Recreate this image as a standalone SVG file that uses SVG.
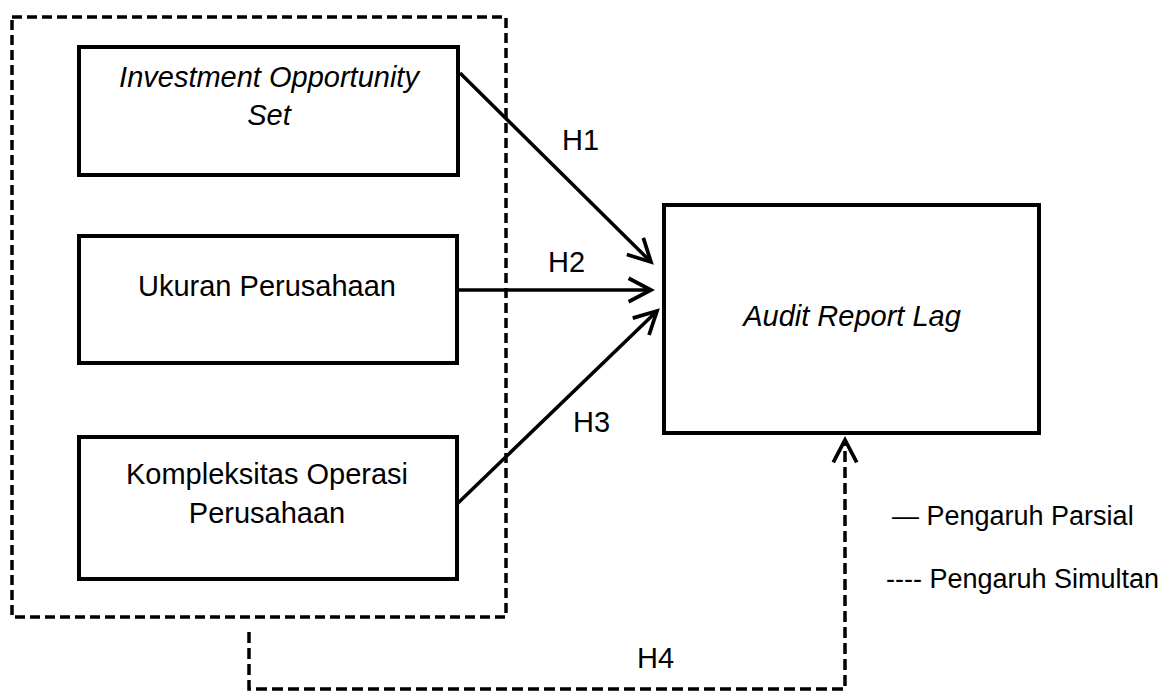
<svg xmlns="http://www.w3.org/2000/svg" width="1159" height="693" viewBox="0 0 1159 693">
<style>
.box{fill:#fff;stroke:#000;stroke-width:4;}
.dash{fill:none;stroke:#000;stroke-width:3.5;stroke-dasharray:10 5;}
.line{fill:none;stroke:#000;stroke-width:3.5;}
text{font-family:"Liberation Sans",Arial,sans-serif;font-size:29px;fill:#000;}
.it{font-style:italic;}
.lg{font-size:27px;}
</style>
<defs>
<marker id="arr" markerUnits="userSpaceOnUse" markerWidth="32" markerHeight="32" viewBox="-26 -15 30 30" refX="0" refY="0" orient="auto">
<path d="M -21 -11 L 0 0 L -21 11" fill="none" stroke="#000" stroke-width="3.5"/>
</marker>
</defs>
<rect width="1159" height="693" fill="#fff"/>
<g id="group-box">
<rect class="dash" x="12" y="17" width="494" height="600"/>
</g>
<g id="node-ios">
<rect class="box" x="79" y="47" width="379" height="128"/>
<text class="it" x="269" y="87" text-anchor="middle">Investment Opportunity</text>
<text class="it" x="269" y="125" text-anchor="middle">Set</text>
</g>
<g id="node-ukuran">
<rect class="box" x="79" y="236" width="378" height="127"/>
<text x="267" y="296" text-anchor="middle">Ukuran Perusahaan</text>
</g>
<g id="node-kompleksitas">
<rect class="box" x="79" y="437" width="378" height="142"/>
<text x="267" y="484" text-anchor="middle">Kompleksitas Operasi</text>
<text x="267" y="523" text-anchor="middle">Perusahaan</text>
</g>
<g id="node-arl">
<rect class="box" x="664" y="205" width="375" height="228"/>
<text class="it" x="852" y="326" text-anchor="middle">Audit Report Lag</text>
</g>
<g id="connectors">
<line class="line" x1="460" y1="73" x2="651" y2="262" marker-end="url(#arr)"/>
<line class="line" x1="458" y1="290" x2="651" y2="290" marker-end="url(#arr)"/>
<line class="line" x1="457" y1="504" x2="657" y2="311" marker-end="url(#arr)"/>
<path class="dash" d="M 249 632 L 249 689 L 845 689 L 845 440" marker-end="url(#arr)" style="stroke-dasharray:11 5"/>
<text x="562" y="150">H1</text>
<text x="548" y="272">H2</text>
<text x="573" y="432">H3</text>
<text x="637" y="668">H4</text>
</g>
<g id="legend">
<text class="lg" x="892" y="525">— Pengaruh Parsial</text>
<text class="lg" x="886" y="588">---- Pengaruh Simultan</text>
</g>
</svg>
